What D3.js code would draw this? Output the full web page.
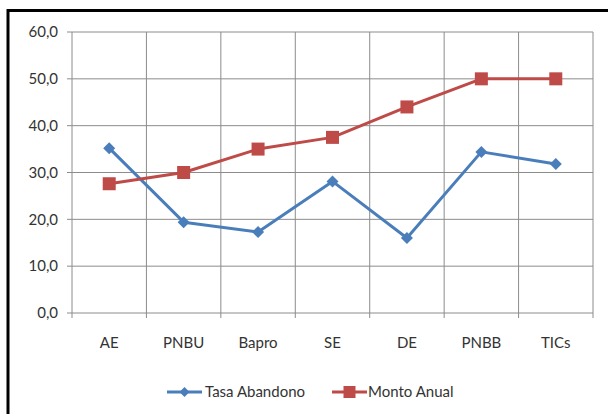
<!DOCTYPE html>
<html><head><meta charset="utf-8">
<script src="https://cdn.jsdelivr.net/npm/d3@7"></script>
<style>body{margin:0;background:#fff;}svg{display:block;}text{font-family:Lato,"Liberation Sans",sans-serif;fill:#333;}</style>
</head><body><svg id="c" width="608" height="414"></svg>
<script>
const categories = ["AE","PNBU","Bapro","SE","DE","PNBB","TICs"];
const tasaAbandono = [35.2, 19.4, 17.3, 28.1, 16.0, 34.4, 31.8];
const montoAnual = [27.6, 30.0, 35.0, 37.5, 44.0, 50.0, 50.0];
const yTicks = [0,10,20,30,40,50,60];
const seriesNames = ["Tasa Abandono","Monto Anual"];

const svg = d3.select("#c");
// outer frame
svg.append("path").attr("d","M8,414 V10.5 H608").attr("fill","none").attr("stroke","#000").attr("stroke-width",3);

const L=72,R=593,T=32,B=313;
const x = d3.scaleBand().domain(categories).range([L,R]);
const y = d3.scaleLinear().domain([0,60]).range([B,T]);
const grid="#8c8c8c";
const fmt = v => d3.format(".1f")(v).replace(".",",");

// horizontal grid + ticks
svg.append("g").selectAll("line").data(yTicks).join("line")
  .attr("x1",L-5).attr("x2",R).attr("y1",d=>y(d)).attr("y2",d=>y(d))
  .attr("stroke",grid).attr("stroke-width",1);
// vertical grid (category boundaries) + ticks below
const bounds = categories.map(c=>x(c)).concat([x.range()[1]]);
svg.append("g").selectAll("line").data(bounds).join("line")
  .attr("x1",d=>d).attr("x2",d=>d).attr("y1",T).attr("y2",B+5)
  .attr("stroke",grid).attr("stroke-width",1);

// y labels
svg.append("g").selectAll("text").data(yTicks).join("text")
  .attr("x",58).attr("y",d=>y(d)).attr("dy","0.35em").attr("text-anchor","end")
  .attr("font-size",15).text(fmt);
// x labels
svg.append("g").selectAll("text").data(categories).join("text")
  .attr("x",d=>x(d)+x.bandwidth()/2).attr("y",343).attr("dy","0.35em").attr("text-anchor","middle")
  .attr("font-size",15).text(d=>d);

const blue="#4a7ebb", red="#be4b48";
const line = d3.line().x((d,i)=>x(categories[i])+x.bandwidth()/2).y(d=>y(d));
function series(data,color,marker){
  svg.append("path").datum(data).attr("d",line).attr("fill","none").attr("stroke",color).attr("stroke-width",3).attr("stroke-linejoin","round");
  const g=svg.append("g");
  data.forEach((v,i)=>{
    const cx=x(categories[i])+x.bandwidth()/2, cy=y(v);
    marker(g,cx,cy);
  });
}
const diamond=(g,cx,cy,s=6)=>g.append("path").attr("d",`M${cx},${cy-s}L${cx+s},${cy}L${cx},${cy+s}L${cx-s},${cy}Z`).attr("fill",blue);
const square=(g,cx,cy,s=6.5)=>g.append("rect").attr("x",cx-s).attr("y",cy-s).attr("width",2*s).attr("height",2*s).attr("fill",red);
series(tasaAbandono,blue,diamond);
series(montoAnual,red,square);

// legend
const lg=svg.append("g");
const ly=392;
lg.append("line").attr("x1",167).attr("x2",202).attr("y1",ly).attr("y2",ly).attr("stroke",blue).attr("stroke-width",3);
diamond(lg,184.5,ly,5);
lg.append("text").attr("x",205).attr("y",ly).attr("dy","0.35em").attr("font-size",15).text(seriesNames[0]);
lg.append("line").attr("x1",332).attr("x2",367).attr("y1",ly).attr("y2",ly).attr("stroke",red).attr("stroke-width",3);
square(lg,349.5,ly,6);
lg.append("text").attr("x",368).attr("y",ly).attr("dy","0.35em").attr("font-size",15).text(seriesNames[1]);
</script></body></html>
